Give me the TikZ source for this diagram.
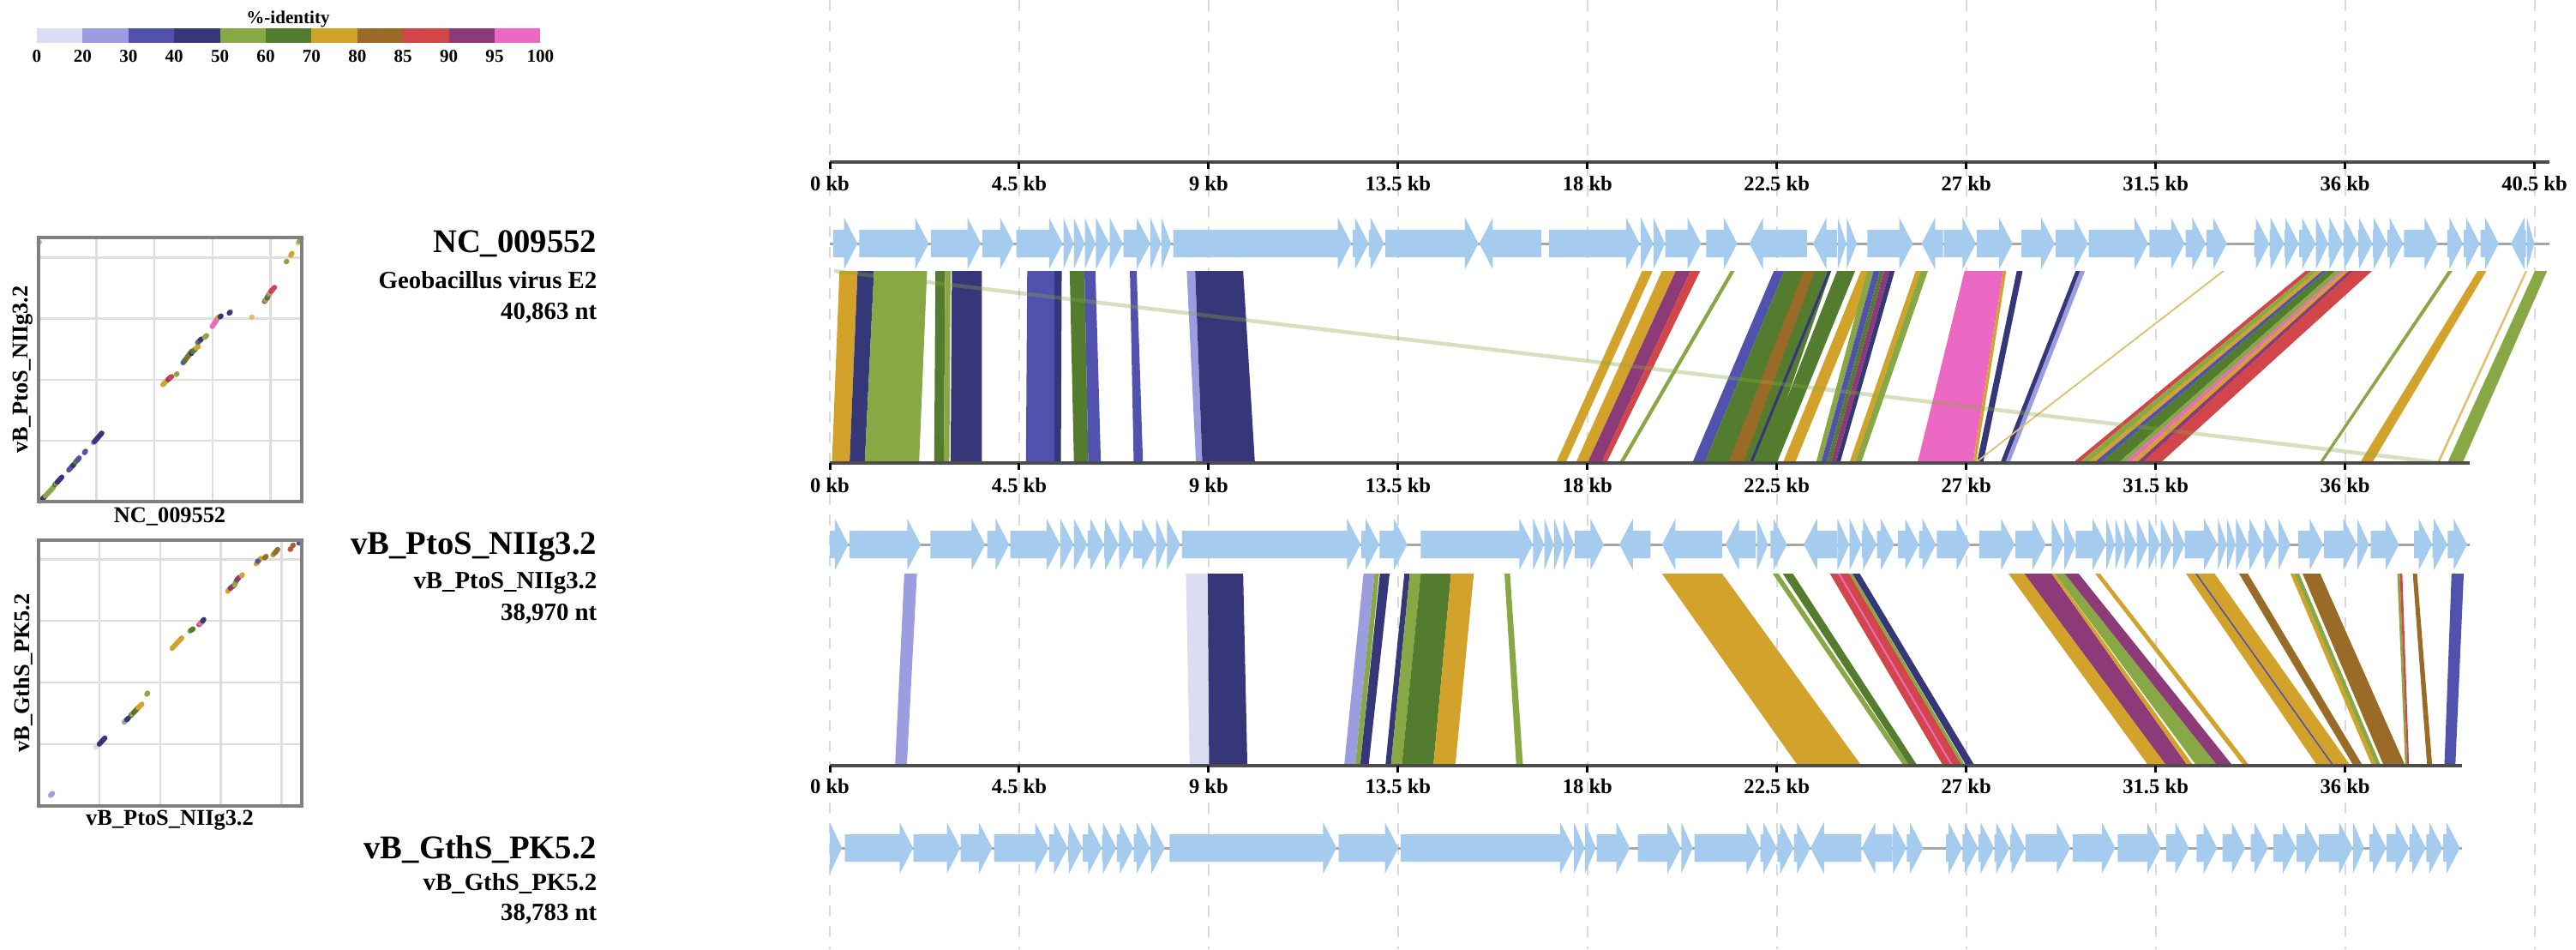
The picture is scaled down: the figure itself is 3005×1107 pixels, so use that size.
\documentclass[tikz,border=0pt]{standalone}
\usepackage{fontspec}
\setmainfont{Liberation Serif}
\usepackage{xcolor}
\usetikzlibrary{positioning}

\definecolor{idlav}{HTML}{DCDDF3}
\definecolor{idperi}{HTML}{9C9DE0}
\definecolor{idblue}{HTML}{5052AD}
\definecolor{idnavy}{HTML}{363779}
\definecolor{idolive}{HTML}{87A844}
\definecolor{idgreen}{HTML}{547C2E}
\definecolor{idgold}{HTML}{D3A22A}
\definecolor{idbrown}{HTML}{9A6B27}
\definecolor{idred}{HTML}{D24548}
\definecolor{idplum}{HTML}{8D3A79}
\definecolor{idpink}{HTML}{EB68C3}
\definecolor{genefill}{HTML}{A5CBEE}

% hits: colour / upper start / upper end / lower start / lower end (kb)
\newcommand{\hitsA}{idgold/0.23/0.66/0.05/0.47, idnavy/0.66/1.05/0.47/0.83,
  idolive/1.05/2.31/0.83/2.12, idgreen/2.51/2.74/2.48/2.71, idolive/2.74/2.87/2.71/2.84,
  idnavy/2.9/3.61/2.87/3.61, idblue/4.69/5.34/4.66/5.34, idnavy/5.34/5.51/5.34/5.49,
  idgreen/5.7/6.05/5.8/6.14, idblue/6.05/6.31/6.14/6.44, idblue/7.13/7.29/7.22/7.44,
  idperi/8.48/8.68/8.7/8.85, idnavy/8.68/9.82/8.85/10.1,
  idgold/19.3/19.55/17.25/17.48, idgold/19.77/20.1/17.72/18.0, idplum/20.1/20.45/18.0/18.33,
  idred/20.45/20.68/18.33/18.45, idolive/21.4/21.5/18.75/18.85,
  idblue/22.43/22.68/20.49/20.78, idgreen/22.68/23.79/20.78/22.21, idbrown/23.14/23.4/21.35/21.7,
  idnavy/23.72/23.79/21.85/21.92, idgreen/23.93/24.36/22.14/22.5, idgold/24.5/24.8/22.64/22.93,
  idolive/24.65/24.8/23.43/23.55, idblue/24.8/24.95/23.55/23.68, idgreen/24.95/25.05/23.68/23.78,
  idplum/25.05/25.18/23.78/23.9, idnavy/25.18/25.3/23.9/24.0,
  idgold/25.8/25.92/24.22/24.35, idolive/25.92/26.09/24.35/24.5,
  idpink/26.96/27.88/25.84/27.16, idgold/27.88/27.95/27.16/27.23, idnavy/28.2/28.34/27.25/27.4,
  idperi/29.68/29.82/27.9/28.03, idnavy/29.6/29.7/27.81/27.92, idgold!70/33.08/33.14/27.18/27.24,
  idred/35.06/35.2/29.53/29.67, idolive/35.2/35.34/29.67/29.89, idgold/35.34/35.46/29.89/30.03,
  idblue/35.46/35.56/30.03/30.18, idgreen/35.56/35.77/30.18/30.61, idolive/35.77/35.92/30.61/30.75,
  idpink/35.92/35.99/30.75/30.89, idgold/35.99/36.09/30.89/31.04, idplum/36.09/36.2/31.04/31.18,
  idred/36.2/36.64/31.18/31.61,
  idolive/38.45/38.55/35.38/35.46, idgold/39.15/39.36/36.35/36.64, idgold!70/40.28/40.33/38.18/38.24,
  idolive/40.51/40.8/38.43/38.79}
\newcommand{\hitsB}{idperi/1.77/2.07/1.55/1.83, idlav/8.46/8.98/8.55/9.01, idnavy/8.98/9.82/9.01/9.92,
  idperi/12.68/12.94/12.22/12.48, idolive/12.94/13.05/12.48/12.6, idnavy/13.07/13.3/12.6/12.8,
  idnavy/13.65/13.78/13.2/13.33, idolive/13.78/14.04/13.33/13.59, idgreen/14.04/14.76/13.59/14.34,
  idgold/14.76/15.3/14.34/14.86, idolive/16.03/16.16/16.31/16.47,
  idgold/19.77/21.2/23.0/24.51, idolive/22.4/22.54/25.51/25.65, idgreen/22.64/22.88/25.65/25.84,
  idred/23.76/24.22/26.45/26.9, idpink/23.95/24.0/26.64/26.69, idolive/24.22/24.3/26.9/26.98,
  idnavy/24.3/24.47/27.0/27.2,
  idgold/28.0/28.38/31.33/31.76, idplum/28.38/29.03/31.76/32.26, idgold/29.03/29.1/32.26/32.4,
  idolive/29.1/29.34/32.47/32.97, idplum/29.34/29.67/32.97/33.33, idgold/30.06/30.18/33.59/33.73,
  idgold/32.22/32.9/35.34/36.13, idblue/32.44/32.48/35.7/35.74, idbrown/33.48/33.69/36.2/36.42,
  idgold/34.7/34.8/36.64/36.74, idolive/34.8/34.91/36.74/36.85, idbrown/34.99/35.41/36.92/37.43,
  idolive/37.24/37.3/37.43/37.48, idred/37.3/37.36/37.48/37.52, idbrown/37.61/37.71/37.95/38.07,
  idblue/38.53/38.82/38.36/38.62}

\begin{document}
\begin{tikzpicture}[x=0.1mm, y=-0.1mm,
    gene/.style={fill=genefill},
    backbone/.style={draw=black!35, line width=0.3mm},
    ruler/.style={draw=black!70, line width=0.35mm},
    tickmark/.style={draw=black, line width=0.3mm},
    kblabel/.style={font=\fontsize{7}{8}\selectfont\bfseries, inner sep=0pt},
    kbgrid/.style={draw=black!15, line width=0.2mm, dash pattern=on 1.3mm off 1.1mm},
    gtitle/.style={font=\fontsize{11}{13}\selectfont\bfseries, anchor=east, inner sep=0pt},
    gsub/.style={font=\fontsize{8.2}{10}\selectfont\bfseries, anchor=east, inner sep=0pt},
    plotframe/.style={draw=black!50, line width=0.45mm},
    plotgrid/.style={draw=black!13, line width=0.25mm},
    hitmark/.style={line width=0.6mm, line cap=round},
    axlabel/.style={font=\fontsize{7.5}{9}\selectfont\bfseries, inner sep=0pt},
    legendlbl/.style={font=\fontsize{6}{7}\selectfont\bfseries, inner sep=0pt}
]
\useasboundingbox (0,0) rectangle (3005,1107);

% Legend
\node[legendlbl] (legtitle) at (336,22) {\%-identity};
\foreach \col [count=\i from 0] in {idlav,idperi,idblue,idnavy,idolive,idgreen,idgold,idbrown,idred,idplum,idpink}
  \fill[\col] ({43+53.4*\i},33) rectangle +(53.4,17);
\foreach \v [count=\i from 0] in {0,20,30,40,50,60,70,80,85,90,95,100}
  \node[legendlbl] (leg\i) at ({43+53.4*\i},66) {\v};

% Comparison panel (x in kb)
\begin{scope}[shift={(968,0)}, x=4.91mm]
  \foreach \k in {0,4.5,9,13.5,18,22.5,27,31.5,36,40.5}
    \draw[kbgrid] (\k,0) -- (\k,1107);

  % blocks NC_009552 -> vB_PtoS_NIIg3.2
  \foreach \col/\ts/\te/\bs/\be in \hitsA
    \fill[\col] (\ts,316) -- (\te,316) -- (\be,540) -- (\bs,540) -- cycle;
  \draw[idolive, opacity=0.35, line width=0.45mm] (0.1,316) -- (38.3,540);

  % blocks vB_PtoS_NIIg3.2 -> vB_GthS_PK5.2
  \foreach \col/\ts/\te/\bs/\be in \hitsB
    \fill[\col] (\ts,669) -- (\te,669) -- (\be,893) -- (\bs,893) -- cycle;

  % Rulers
  \draw[ruler] (0,189) -- (40.863,189);
  \foreach \k [count=\i] in {0,4.5,9,13.5,18,22.5,27,31.5,36,40.5}{
    \draw[tickmark] (\k,189) -- (\k,197);
    \node[kblabel] (ra\i) at (\k,214) {\k\ kb};
  }
  \draw[ruler] (0,540) -- (38.97,540);
  \foreach \k [count=\i] in {0,4.5,9,13.5,18,22.5,27,31.5,36}{
    \draw[tickmark] (\k,540) -- (\k,548);
    \node[kblabel] (rb\i) at (\k,566) {\k\ kb};
  }
  \draw[ruler] (0,893) -- (38.783,893);
  \foreach \k [count=\i] in {0,4.5,9,13.5,18,22.5,27,31.5,36}{
    \draw[tickmark] (\k,893) -- (\k,901);
    \node[kblabel] (rc\i) at (\k,917) {\k\ kb};
  }
\end{scope}

% Genes NC_009552
\begin{scope}[shift={(968,284)}, x=4.91mm]
  \draw[backbone] (0,0) -- (40.863,0);
  \foreach \gs/\gend/\gdir in {0.08/0.66/1, 0.7/2.35/1, 2.4/3.59/1, 3.62/4.37/1, 4.43/5.53/1,
      5.55/5.79/1, 5.8/6.05/1, 6.06/6.31/1, 6.32/6.64/1, 6.65/6.96/1, 6.98/7.61/1, 7.62/7.87/1,
      7.88/8.11/1, 8.16/12.39/1, 12.42/12.8/1, 12.81/13.17/1, 13.2/15.41/1, 15.43/16.9/0,
      17.09/19.24/1, 19.27/19.56/1, 19.57/19.84/1, 19.85/20.7/1, 20.82/21.56/1, 21.85/23.22/0,
      23.36/23.93/0, 23.95/24.15/1, 24.16/24.4/1, 24.65/25.73/1, 25.94/26.45/0, 26.47/27.23/1,
      27.25/28.1/1, 28.31/29.1/1, 29.12/29.89/1, 29.91/31.32/1, 31.35/32.19/1, 32.21/32.69/1,
      32.71/33.19/1, 33.84/34.2/1, 34.21/34.55/1, 34.56/34.9/1, 34.91/35.3/1, 35.31/35.6/1,
      35.61/35.95/1, 35.96/36.3/1, 36.31/36.65/1, 36.66/37.0/1, 37.01/37.38/1, 37.4/38.21/1,
      38.43/38.8/1, 38.82/39.2/1, 39.22/39.65/1, 39.94/40.3/0, 40.32/40.5/1}{
    \pgfmathsetmacro{\hd}{min(0.32,\gend-\gs)}
    \ifnum\gdir=1
      \fill[gene] (\gs,-16) -- ({\gend-\hd},-16) -- ({\gend-\hd},-30) -- (\gend,0) -- ({\gend-\hd},30) -- ({\gend-\hd},16) -- (\gs,16) -- cycle;
    \else
      \fill[gene] (\gend,-16) -- ({\gs+\hd},-16) -- ({\gs+\hd},-30) -- (\gs,0) -- ({\gs+\hd},30) -- ({\gs+\hd},16) -- (\gend,16) -- cycle;
    \fi
  }
\end{scope}

% Genes vB_PtoS_NIIg3.2
\begin{scope}[shift={(968,635)}, x=4.91mm]
  \draw[backbone] (0,0) -- (38.97,0);
  \foreach \gs/\gend/\gdir in {0.0/0.44/1, 0.47/2.16/1, 2.39/3.69/1, 3.74/4.26/1, 4.29/5.47/1,
      5.48/5.79/1, 5.8/6.12/1, 6.13/6.51/1, 6.52/6.86/1, 6.87/7.2/1, 7.21/7.74/1, 7.75/8.0/1,
      8.01/8.33/1, 8.37/12.61/1, 12.63/13.05/1, 13.06/13.72/1, 14.04/16.7/1, 16.71/16.97/1,
      16.98/17.2/1, 17.21/17.42/1, 17.43/17.68/1, 17.7/18.39/1, 18.76/19.5/0, 19.77/21.2/0,
      21.28/22.0/0, 22.03/22.29/1, 22.35/22.74/1, 23.14/23.93/0, 23.94/24.22/1, 24.23/24.51/1,
      24.52/24.87/1, 24.88/25.29/1, 25.38/25.87/1, 25.88/26.28/1, 26.3/27.09/1, 27.31/28.15/1,
      28.17/28.89/1, 29.03/29.32/1, 29.33/29.6/1, 29.6/30.32/1, 30.33/30.53/1, 30.54/30.75/1,
      30.76/31.04/1, 31.05/31.32/1, 31.33/31.61/1, 31.62/31.9/1, 31.91/32.19/1, 32.19/32.97/1,
      32.98/33.19/1, 33.2/33.4/1, 33.41/33.69/1, 33.7/34.05/1, 34.06/34.41/1, 34.42/34.7/1,
      34.89/35.48/1, 35.5/36.28/1, 36.29/36.57/1, 36.61/37.28/1, 37.64/38.07/1, 38.08/38.43/1,
      38.44/38.9/1}{
    \pgfmathsetmacro{\hd}{min(0.32,\gend-\gs)}
    \ifnum\gdir=1
      \fill[gene] (\gs,-16) -- ({\gend-\hd},-16) -- ({\gend-\hd},-30) -- (\gend,0) -- ({\gend-\hd},30) -- ({\gend-\hd},16) -- (\gs,16) -- cycle;
    \else
      \fill[gene] (\gend,-16) -- ({\gs+\hd},-16) -- ({\gs+\hd},-30) -- (\gs,0) -- ({\gs+\hd},30) -- ({\gs+\hd},16) -- (\gend,16) -- cycle;
    \fi
  }
\end{scope}

% Genes vB_GthS_PK5.2
\begin{scope}[shift={(968,989)}, x=4.91mm]
  \draw[backbone] (0,0) -- (38.783,0);
  \foreach \gs/\gend/\gdir in {0.0/0.29/1, 0.36/1.98/1, 1.99/3.1/1, 3.11/3.86/1, 3.9/5.2/1,
      5.21/5.65/1, 5.66/6.0/1, 6.01/6.46/1, 6.47/6.81/1, 6.82/7.21/1, 7.22/7.61/1, 7.62/7.96/1,
      8.07/12.04/1, 12.09/13.51/1, 13.56/17.67/1, 17.68/17.93/1, 17.94/18.2/1, 18.22/19.01/1,
      19.2/20.22/1, 20.23/20.5/1, 20.54/22.1/1, 22.11/22.5/1, 22.51/22.9/1, 22.91/23.3/1,
      23.3/24.51/0, 24.52/25.23/0, 25.24/25.58/1, 25.59/25.98/1, 26.52/26.9/1, 26.91/27.28/1,
      27.29/27.66/1, 27.67/28.03/1, 28.04/28.4/1, 28.41/29.47/1, 29.53/30.54/1, 30.6/31.62/1,
      31.75/32.29/1, 32.47/32.96/1, 33.09/33.63/1, 33.76/34.17/1, 34.3/34.84/1, 34.85/35.37/1,
      35.38/36.18/1, 36.19/36.45/1, 36.58/36.98/1, 36.99/37.52/1, 37.53/37.92/1, 37.93/38.32/1,
      38.33/38.73/1}{
    \pgfmathsetmacro{\hd}{min(0.32,\gend-\gs)}
    \ifnum\gdir=1
      \fill[gene] (\gs,-16) -- ({\gend-\hd},-16) -- ({\gend-\hd},-30) -- (\gend,0) -- ({\gend-\hd},30) -- ({\gend-\hd},16) -- (\gs,16) -- cycle;
    \else
      \fill[gene] (\gend,-16) -- ({\gs+\hd},-16) -- ({\gs+\hd},-30) -- (\gs,0) -- ({\gs+\hd},30) -- ({\gs+\hd},16) -- (\gend,16) -- cycle;
    \fi
  }
\end{scope}

% Genome labels
\node[gtitle] (nameA) at (697,284) {NC\_009552};
\node[gsub] (orgA) at (697,327) {Geobacillus virus E2};
\node[gsub] (lenA) at (697,365) {40,863 nt};
\node[gtitle] (nameB) at (697,638) {vB\_PtoS\_NIIg3.2};
\node[gsub] (orgB) at (697,680) {vB\_PtoS\_NIIg3.2};
\node[gsub] (lenB) at (697,716) {38,970 nt};
\node[gtitle] (nameC) at (697,991) {vB\_GthS\_PK5.2};
\node[gsub] (orgC) at (697,1030) {vB\_GthS\_PK5.2};
\node[gsub] (lenC) at (697,1066) {38,783 nt};

% Dot plot NC_009552 vs vB_PtoS_NIIg3.2
\begin{scope}[shift={(45,585)}, x=0.7513mm, y=0.7903mm]
  \foreach \k in {9,18,27,36}{
    \draw[plotgrid] (\k,0) -- (\k,38.97);
    \draw[plotgrid] (0,\k) -- (40.863,\k);
  }
  \foreach \col/\ts/\te/\bs/\be in \hitsA
    \draw[hitmark, \col] (\ts,\bs) -- (\te,\be);
  \draw[hitmark, idolive!60] (0.05,38.2) -- (0.15,38.3);
\end{scope}
\draw[plotframe] (45,277) rectangle (352,585);
\node[axlabel] (plotAx) at (198,603) {NC\_009552};
\node[axlabel, rotate=90] (plotAy) at (27,431) {vB\_PtoS\_NIIg3.2};

% Dot plot vB_PtoS_NIIg3.2 vs vB_GthS_PK5.2
\begin{scope}[shift={(45,940)}, x=0.7878mm, y=0.7993mm]
  \foreach \k in {9,18,27,36}{
    \draw[plotgrid] (\k,0) -- (\k,38.783);
    \draw[plotgrid] (0,\k) -- (38.97,\k);
  }
  \foreach \col/\ts/\te/\bs/\be in \hitsB
    \draw[hitmark, \col] (\ts,\bs) -- (\te,\be);
\end{scope}
\draw[plotframe] (45,630) rectangle (352,940);
\node[axlabel] (plotBx) at (198,957) {vB\_PtoS\_NIIg3.2};
\node[axlabel, rotate=90] (plotBy) at (27,785) {vB\_GthS\_PK5.2};

\end{tikzpicture}
\end{document}
